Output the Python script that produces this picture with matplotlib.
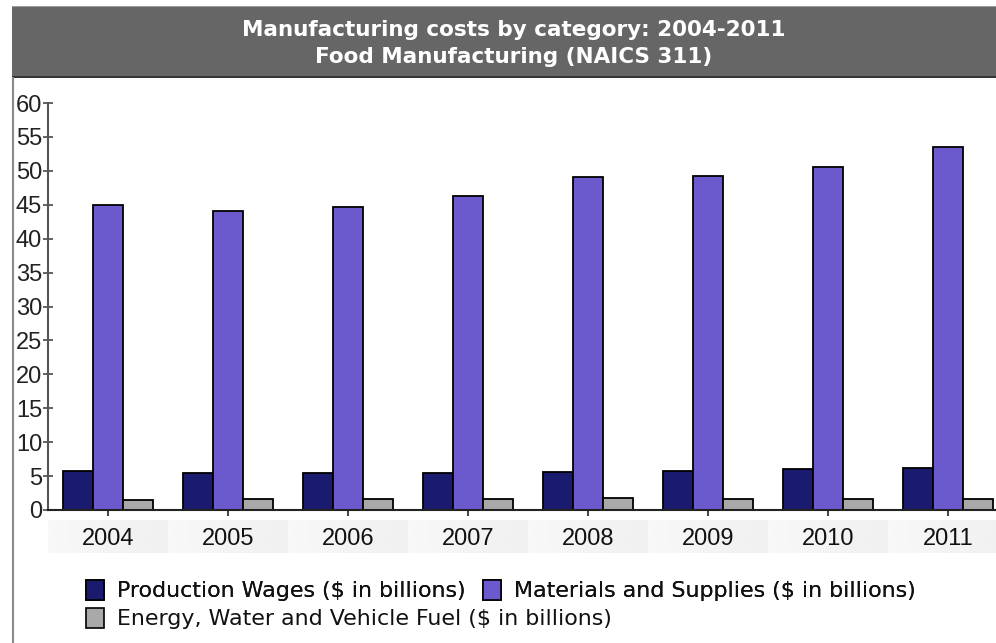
import numpy as np
import matplotlib
matplotlib.use("Agg")
import matplotlib.pyplot as plt
from matplotlib.patches import Rectangle, Patch

years = ["2004", "2005", "2006", "2007", "2008", "2009", "2010", "2011"]
wages = [5.7, 5.5, 5.4, 5.4, 5.6, 5.8, 6.1, 6.25]
materials = [45.0, 44.1, 44.6, 46.3, 49.1, 49.2, 50.6, 53.5]
energy = [1.5, 1.57, 1.62, 1.6, 1.7, 1.67, 1.67, 1.65]
series_names = ["Production Wages ($ in billions)",
                "Materials and Supplies ($ in billions)",
                "Energy, Water and Vehicle Fuel ($ in billions)"]
colors = ["#1a1a6e", "#6a5acd", "#a9a9a9"]
yticks = list(range(0, 61, 5))

W, H = 996, 643
fig = plt.figure(figsize=(W / 100, H / 100), dpi=100)
fig.patch.set_facecolor("white")

def fx(px):
    return px / W

def fy(py):
    return 1 - py / H

# title bar
bar_ax = fig.add_axes([fx(12), fy(78), fx(996 - 12), (78 - 6) / H])
bar_ax.set_xlim(0, 1); bar_ax.set_ylim(0, 1)
bar_ax.axis("off")
bar_ax.add_patch(Rectangle((0, 0), 1, 1, facecolor="#666666", edgecolor="none",
                           transform=bar_ax.transAxes))
bar_ax.plot([0, 1], [0.995, 0.995], color="#9a9a9a", lw=1.5, transform=bar_ax.transAxes)
bar_ax.plot([0, 1], [0.01, 0.01], color="#333333", lw=2, transform=bar_ax.transAxes)
fig.text(fx(514), fy(30), "Manufacturing costs by category: 2004-2011", color="white",
         fontsize=15.5, fontweight="bold", family="DejaVu Sans", ha="center", va="center")
fig.text(fx(514), fy(57), "Food Manufacturing (NAICS 311)", color="white",
         fontsize=15.5, fontweight="bold", family="DejaVu Sans", ha="center", va="center")

# left border line
fig.add_artist(plt.Line2D([fx(13), fx(13)], [fy(78), 0], color="#8a8a8a", lw=1.5))

# main axes
ax = fig.add_axes([fx(48), fy(510), 960 / W, 407 / H])
x = np.arange(len(years))
bw = 0.25
ax.bar(x - bw, wages, bw, color=colors[0], edgecolor="black", linewidth=1.3, label=series_names[0])
ax.bar(x, materials, bw, color=colors[1], edgecolor="black", linewidth=1.3, label=series_names[1])
ax.bar(x + bw, energy, bw, color=colors[2], edgecolor="black", linewidth=1.3, label=series_names[2])
ax.set_xlim(-0.5, len(years) - 0.5)
ax.set_ylim(0, 60)
ax.set_yticks(yticks)
ax.set_yticklabels([str(t) for t in yticks], fontsize=17, family="Liberation Sans", color="#222222")
ax.set_xticks(x)
ax.set_xticklabels([])
ax.tick_params(axis="y", direction="inout", length=7.5, width=1.3, color="#555555", pad=0.5)
ax.tick_params(axis="x", direction="out", length=4.5, width=1.3, color="#333333")
for s in ["top", "right"]:
    ax.spines[s].set_visible(False)
ax.spines["left"].set_color("#555555")
ax.spines["left"].set_linewidth(1.5)
ax.spines["bottom"].set_color("#222222")
ax.spines["bottom"].set_linewidth(1.5)
ax.patch.set_alpha(0)

# category label strip
sax = fig.add_axes([fx(48), fy(553), 960 / W, 33 / H])
sax.set_xlim(-0.5, len(years) - 0.5)
sax.set_ylim(0, 1)
sax.axis("off")
grad = np.linspace(0.97, 0.94, 64).reshape(1, -1)
for i, yr in enumerate(years):
    sax.imshow(grad, cmap="gray", vmin=0, vmax=1, aspect="auto",
               extent=(i - 0.5, i + 0.5, 0, 1), interpolation="bilinear")
    sax.text(i, 0.5, yr, ha="center", va="center_baseline", fontsize=17,
             family="Liberation Sans", color="#111111")
sax.set_xlim(-0.5, len(years) - 0.5)
sax.set_ylim(0, 1)

# legends
h = [Patch(facecolor=c, edgecolor="black", linewidth=1.2) for c in colors]
fs = 15.9
leg1 = fig.legend(h[:2], series_names[:2], loc="upper left", bbox_to_anchor=(fx(86), fy(580)),
                  ncol=2, frameon=False, handlelength=0.8, handleheight=1.0,
                  handletextpad=0.6, columnspacing=0.8, borderpad=0, borderaxespad=0,
                  prop={"family": "DejaVu Sans", "size": fs})
fig.add_artist(leg1)
leg2 = fig.legend(h[2:], series_names[2:], loc="upper left", bbox_to_anchor=(fx(86), fy(608)),
                  frameon=False, handlelength=0.8, handleheight=1.0,
                  handletextpad=0.6, borderpad=0, borderaxespad=0,
                  prop={"family": "DejaVu Sans", "size": fs})
for lg in (leg1, leg2):
    for t in lg.get_texts():
        t.set_color("#111111")

fig.savefig("out.png", dpi=100)
